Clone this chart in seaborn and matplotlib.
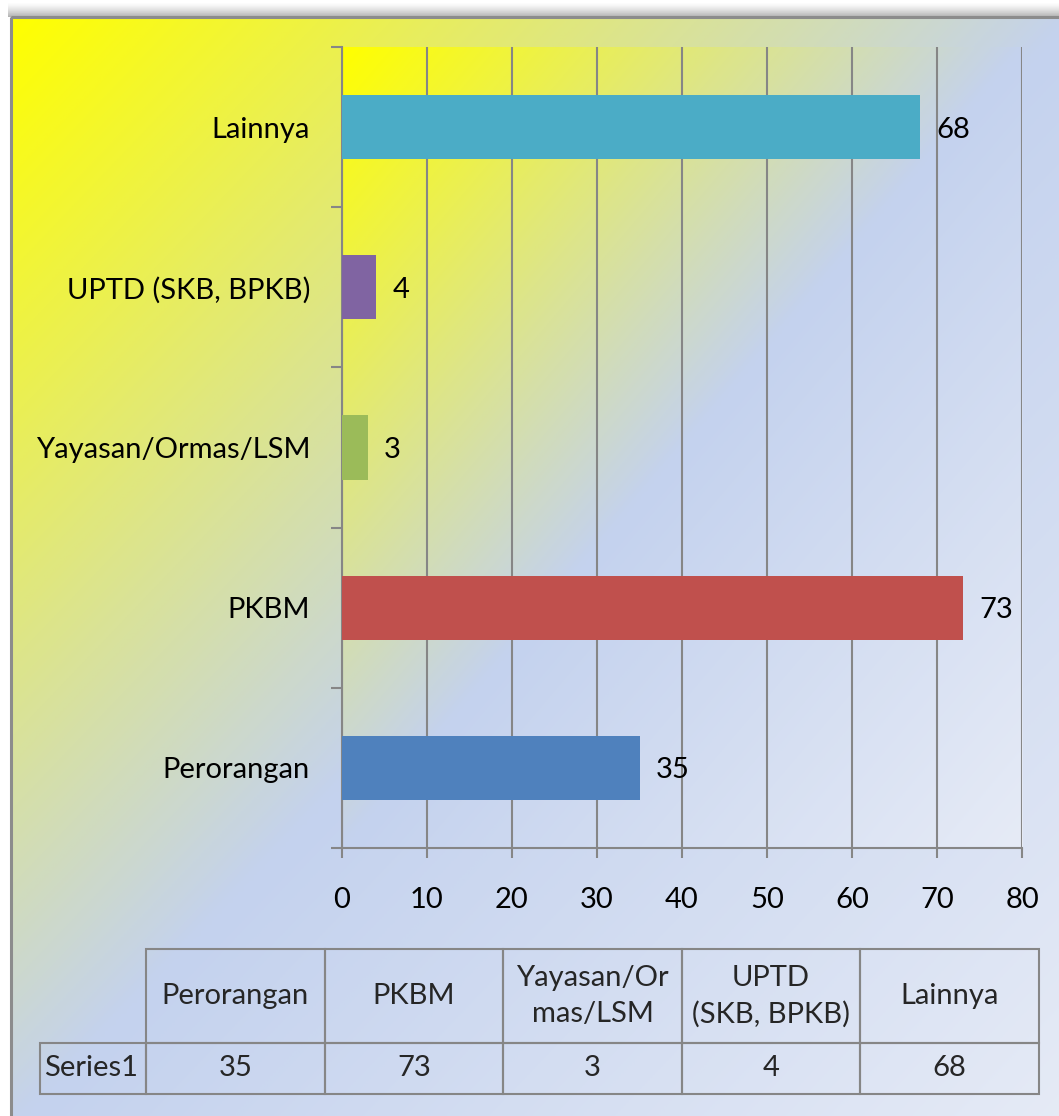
import numpy as np
import pandas as pd
import matplotlib
matplotlib.use("Agg")
import matplotlib.pyplot as plt
import seaborn as sns
from matplotlib.table import Table
from matplotlib.patches import Rectangle
from matplotlib.colors import LinearSegmentedColormap

# ---- data ----
categories = ["Perorangan", "PKBM", "Yayasan/Ormas/LSM", "UPTD (SKB, BPKB)", "Lainnya"]
values = [35, 73, 3, 4, 68]
bar_colors = ["#4F81BD", "#C0504D", "#9BBB59", "#8064A2", "#4BACC6"]
table_headers = ["Perorangan", "PKBM", "Yayasan/Or\nmas/LSM", "UPTD\n(SKB, BPKB)", "Lainnya"]
series_name = "Series1"
x_ticks = list(range(0, 81, 10))

sns.set_theme(style="white")
plt.rcParams["font.family"] = ["Lato", "DejaVu Sans"]

FS = 21
GRAY = "#868686"
W, H = 1059, 1116
fig = plt.figure(figsize=(W / 100, H / 100), dpi=100, facecolor="white")


def px(l, t, r, b):
    return [l / W, 1 - b / H, (r - l) / W, (b - t) / H]


cmap = LinearSegmentedColormap.from_list(
    "g", [(0.0, "#FFFF00"), (0.5, "#C4D2EE"), (1.0, "#E6EBF6")])


def grad(n=400):
    u = np.linspace(0, 1, n)
    T = (u[None, :] + u[:, None]) / 2
    return cmap(T)


# ---- outer chart area ----
bg = fig.add_axes([0, 0, 1, 1], zorder=-10)
bg.set_axis_off()
fx0, fy0, fx1, fy1 = 11, 17, 1075, 1130
bg.imshow(grad(), extent=(fx0, fx1, fy1, fy0), aspect="auto",
          interpolation="bilinear", zorder=1)
sh = np.zeros((24, 1, 4))
sh[..., :3] = 0.45
sh[:, 0, 3] = np.linspace(0.0, 0.65, 24) ** 1.4
bg.imshow(sh, extent=(fx0 - 3, fx1, fy0, fy0 - 15), aspect="auto",
          interpolation="bilinear", zorder=0)
bg.add_patch(Rectangle((fx0, fy0), fx1 - fx0, fy1 - fy0, fill=False,
                       ec="#8C8C8C", lw=2.2, zorder=3))
bg.set_xlim(0, W)
bg.set_ylim(H, 0)

# ---- plot area ----
pos = px(342, 47, 1022, 848)
pbg = fig.add_axes(pos, zorder=-5)
pbg.set_axis_off()
pbg.imshow(grad(), extent=(0, 1, 0, 1), aspect="auto", interpolation="bilinear")
pbg.set_xlim(0, 1)
pbg.set_ylim(0, 1)

ax = fig.add_axes(pos, zorder=1)
ax.set_facecolor("none")
df = pd.DataFrame({"cat": categories, "val": values})
order = categories[::-1]
sns.barplot(data=df, y="cat", x="val", order=order, hue="cat", hue_order=order,
            palette=dict(zip(categories, bar_colors)), width=0.4, legend=False,
            saturation=1, orient="h", ax=ax, zorder=3, linewidth=0, edgecolor="none")
ax.set_xlim(0, 80)
ax.set_ylim(4.5, -0.5)
ax.set_xticks(x_ticks)
ax.set_xlabel("")
ax.set_ylabel("")
ax.xaxis.grid(True, color=GRAY, lw=1.5)
ax.yaxis.grid(False)
ax.set_axisbelow(True)
for s in ["top", "right"]:
    ax.spines[s].set_visible(False)
for s in ["left", "bottom"]:
    ax.spines[s].set_color(GRAY)
    ax.spines[s].set_linewidth(1.5)
ax.set_yticks(np.arange(-0.5, 5, 1), minor=True)
ax.tick_params(axis="y", which="major", length=0, pad=23, labelsize=FS, labelcolor="black")
ax.tick_params(axis="y", which="minor", left=True, length=8, width=1.5,
               color=GRAY, direction="out")
ax.tick_params(axis="x", which="major", bottom=True, length=7, width=1.5,
               color=GRAY, direction="out", pad=21, labelsize=FS, labelcolor="black")
for c in ax.containers:
    for t in ax.bar_label(c, padding=12, fontsize=FS, color="black"):
        t.set_verticalalignment("center_baseline")

# ---- data table ----
# axes spans the five data columns; the row-label column sits to its left
tax = fig.add_axes(px(146, 949, 1039, 1094))
tax.set_axis_off()
tbl = Table(tax, bbox=[0, 0, 1, 1])
CW = 1 / len(values)
LW = 106 / 893
HH, DH = 94 / 145, 51 / 145
for j, h in enumerate(table_headers):
    tbl.add_cell(0, j, width=CW, height=HH, text=h, loc="center",
                 facecolor="none", edgecolor=GRAY)
lab = tbl.add_cell(1, -1, width=LW, height=DH, text=series_name, loc="left",
                   facecolor="none", edgecolor=GRAY)
lab.PAD = 0.04
for j, v in enumerate(values):
    tbl.add_cell(1, j, width=CW, height=DH, text=str(v), loc="center",
                 facecolor="none", edgecolor=GRAY)
tbl.auto_set_font_size(False)
tbl.set_fontsize(FS)
for cell in tbl.get_celld().values():
    cell.set_linewidth(1.5)
    cell.get_text().set_linespacing(1.45)
tax.add_table(tbl)

fig.savefig("out.png", dpi=100, facecolor="white")
